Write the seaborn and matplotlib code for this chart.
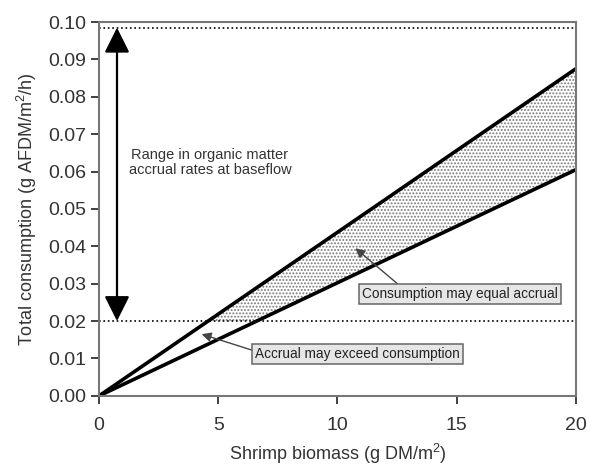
import numpy as np
import pandas as pd
import matplotlib
matplotlib.use("Agg")
import matplotlib.pyplot as plt
import seaborn as sns

# line end points
biomass = [0, 20]
upper_rate = [0.0, 0.0875]
lower_rate = [0.0, 0.0605]
accrual_low = 0.020
accrual_high = 0.0985
xticks = [0, 5, 10, 15, 20]
yticks = [0.00, 0.01, 0.02, 0.03, 0.04, 0.05, 0.06, 0.07, 0.08, 0.09, 0.10]

sns.set_style("ticks")
plt.rcParams['font.family'] = ['Liberation Sans', 'DejaVu Sans']
plt.rcParams['mathtext.fontset'] = 'custom'
plt.rcParams['mathtext.rm'] = 'Liberation Sans'

df = pd.DataFrame({"x": biomass + biomass,
                   "y": upper_rate + lower_rate,
                   "line": ["upper"] * 2 + ["lower"] * 2})

fig = plt.figure(figsize=(5.9, 4.69), dpi=100)
ax = fig.add_axes([0.168, 0.156, 0.808, 0.797])

# shaded zone between the lines, above the low accrual rate
xs = np.linspace(biomass[0], biomass[-1], 400)
up = np.interp(xs, biomass, upper_rate)
lo = np.maximum(np.interp(xs, biomass, lower_rate), accrual_low)
plt.rcParams['hatch.color'] = '#777777'
plt.rcParams['hatch.linewidth'] = 0.9
ax.fill_between(xs, up, lo, where=up >= lo, interpolate=True,
                facecolor='white', hatch='.....', edgecolor='#777777', linewidth=0)

sns.lineplot(data=df, x="x", y="y", units="line", estimator=None,
             color='black', linewidth=2.6, ax=ax, legend=False)

ax.axhline(accrual_low, color='black', linestyle=':', linewidth=1.2)
ax.axhline(accrual_high, color='black', linestyle=':', linewidth=1.2)

ax.annotate('', xy=(0.75, accrual_high), xytext=(0.75, accrual_low),
            arrowprops=dict(arrowstyle='<|-|>,head_length=0.7,head_width=0.35', color='black',
                            lw=1.6, mutation_scale=22, shrinkA=0, shrinkB=0))
ax.text(4.65, 0.0625, 'Range in organic matter\naccrual rates at baseflow',
        ha='center', va='center', fontsize=10.5, color='#333333', linespacing=1.1)

box = dict(boxstyle='square,pad=0.22', facecolor='#e6e6e6', edgecolor='#666666', lw=1.1)
ax.annotate('Consumption may equal accrual', xy=(10.75, 0.0395), xytext=(15.15, 0.0272),
            ha='center', va='center', fontsize=9.8, color='#222222', bbox=box,
            arrowprops=dict(arrowstyle='-|>', color='#444444', lw=1, mutation_scale=14,
                            relpos=(0.2, 1.0), shrinkA=0, shrinkB=0))
ax.annotate('Accrual may exceed consumption', xy=(4.3, 0.0165), xytext=(10.85, 0.0112),
            ha='center', va='center', fontsize=9.8, color='#222222', bbox=box,
            arrowprops=dict(arrowstyle='-|>', color='#444444', lw=1, mutation_scale=14,
                            relpos=(0.0, 0.7), shrinkA=0, shrinkB=0))

ax.set_xlim(0, 20)
ax.set_ylim(0, 0.10)
ax.set_xticks(xticks)
ax.set_yticks(yticks)
ax.set_xticklabels([str(t) for t in xticks])
ax.set_yticklabels([f"{t:.2f}" for t in yticks])
ax.tick_params(labelsize=14, colors='#333333', length=6, width=1.3)
ax.tick_params(axis='x', pad=9)
ax.set_xlabel('Shrimp biomass (g DM/m$^{2}$)', fontsize=13, color='#333333', labelpad=6)
ax.set_ylabel('Total consumption (g AFDM/m$^{2}$/h)', fontsize=13, color='#333333', labelpad=6)
for s in ax.spines.values():
    s.set_visible(True)
    s.set_color('#777777')
    s.set_linewidth(1.5)

fig.savefig('out.png', dpi=100)
